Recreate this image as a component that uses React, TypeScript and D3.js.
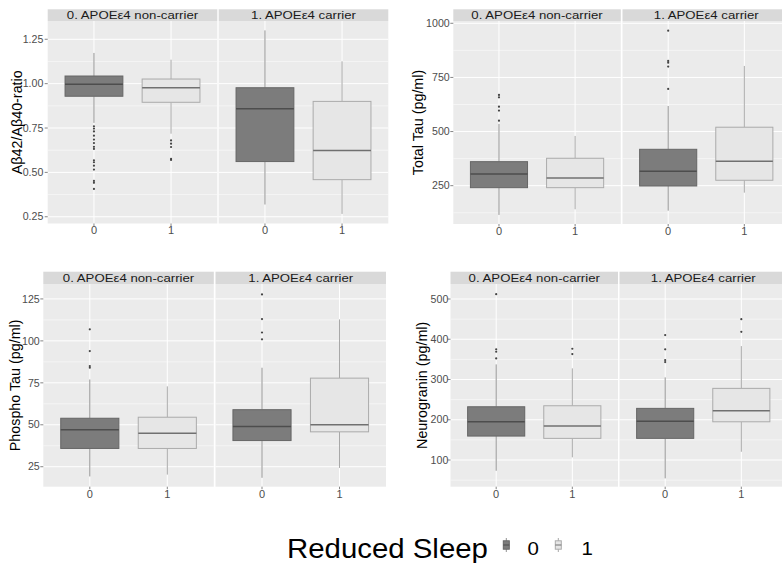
import React from "react";
import * as d3 from "d3";

// ---------- data ----------
const facetLabels = ["0. APOEε4 non-carrier", "1. APOEε4 carrier"];
const sleepGroups = ["0", "1"];
// order of each array: [non-carrier/0, non-carrier/1, carrier/0, carrier/1]

const abLow = [0.779, 0.718, 0.319, 0.266];
const abQ1 = [0.929, 0.895, 0.561, 0.459];
const abMed = [0.996, 0.977, 0.858, 0.624];
const abQ3 = [1.043, 1.026, 0.977, 0.9];
const abHigh = [1.173, 1.135, 1.3, 1.126];
const abOut = [
  [0.76, 0.747, 0.731, 0.707, 0.685, 0.665, 0.644, 0.632, 0.568, 0.557, 0.538, 0.516, 0.452, 0.441, 0.407],
  [0.68, 0.662, 0.643, 0.576, 0.57],
  [],
  [],
];
const abTicks = [0.25, 0.5, 0.75, 1.0, 1.25];

const ttLow = [115, 141, 134.5, 217.7];
const ttQ1 = [240.8, 240.8, 248.6, 275];
const ttMed = [304, 285.6, 316.5, 362.7];
const ttQ3 = [360.9, 376.6, 418, 520];
const ttHigh = [535, 479.7, 618, 803];
const ttOut = [[669, 658, 615, 597, 550], [], [966, 826, 818, 800, 697], []];
const ttTicks = [250, 500, 750, 1000];

const ptLow = [19.2, 20.3, 18.4, 24.3];
const ptQ1 = [35.9, 35.9, 40.6, 45.8];
const ptMed = [47, 45, 49, 50];
const ptQ3 = [53.9, 54.5, 59, 77.8];
const ptHigh = [77, 72.9, 84, 112.8];
const ptOut = [[106.9, 93.9, 85, 84], [], [127.7, 113, 105, 100.9], []];
const ptTicks = [25, 50, 75, 100, 125];

const ngLow = [73.3, 106.6, 54.4, 120.5];
const ngQ1 = [159.5, 153.8, 153.8, 195];
const ngMed = [195, 184.3, 196, 222.4];
const ngQ3 = [232.3, 234.8, 228.3, 278];
const ngHigh = [337.6, 327.7, 305.3, 383];
const ngOut = [[512, 375, 369, 352.5], [376.4, 363.2], [410.4, 375, 348.3, 343.4], [450, 418.6]];
const ngTicks = [100, 200, 300, 400, 500];

const legendTitle = "Reduced Sleep";

// ---------- styling / layout ----------
const FONT = "'Liberation Sans', Arial, Helvetica, sans-serif";
const fills = ["#7c7c7c", "#e6e6e6"];
const strokes = ["#666666", "#ababab"];
const medians = ["#4d4d4d", "#707070"];
const whiskers = ["#939393", "#a8a8a8"];

type Panel = {
  title: string;
  low: number[]; q1: number[]; med: number[]; q3: number[]; high: number[]; out: number[][];
  ticks: number[]; fmt: (v: number) => string;
  domain: [number, number];
  left: number; facetW: number; gap: number;
  stripTop: number; plotTop: number; plotBottom: number;
  titleX: number; labelGap: number;
};

const panels: Panel[] = [
  {
    title: "Aβ42/Aβ40-ratio", low: abLow, q1: abQ1, med: abMed, q3: abQ3, high: abHigh, out: abOut,
    ticks: abTicks, fmt: d3.format(".2f"), domain: [0.212, 1.353],
    left: 47.7, facetW: 169.6, gap: 1.4, stripTop: 9.3, plotTop: 21, plotBottom: 223.5, titleX: 22, labelGap: 4.4,
  },
  {
    title: "Total Tau (pg/ml)", low: ttLow, q1: ttQ1, med: ttMed, q3: ttQ3, high: ttHigh, out: ttOut,
    ticks: ttTicks, fmt: d3.format("d"), domain: [73, 1010.6],
    left: 453.3, facetW: 167.5, gap: 1.7, stripTop: 9.3, plotTop: 21, plotBottom: 224, titleX: 422.5, labelGap: 3.6,
  },
  {
    title: "Phospho Tau (pg/ml)", low: ptLow, q1: ptQ1, med: ptMed, q3: ptQ3, high: ptHigh, out: ptOut,
    ticks: ptTicks, fmt: d3.format("d"), domain: [13.1, 133.9],
    left: 43.3, facetW: 170.5, gap: 1.7, stripTop: 271.7, plotTop: 284, plotBottom: 486.7, titleX: 19.5, labelGap: 3.6,
  },
  {
    title: "Neurogranin (pg/ml)", low: ngLow, q1: ngQ1, med: ngMed, q3: ngQ3, high: ngHigh, out: ngOut,
    ticks: ngTicks, fmt: d3.format("d"), domain: [33.7, 537.3],
    left: 450.5, facetW: 167.5, gap: 1.5, stripTop: 271.7, plotTop: 284, plotBottom: 486.7, titleX: 427, labelGap: 2.2,
  },
];

function minorTicks(ticks: number[], domain: [number, number]) {
  const step = ticks[1] - ticks[0];
  const res: number[] = [];
  const ext = [ticks[0] - step, ...ticks, ticks[ticks.length - 1] + step];
  for (let i = 0; i < ext.length - 1; i++) {
    const m = (ext[i] + ext[i + 1]) / 2;
    if (m >= domain[0] && m <= domain[1]) res.push(m);
  }
  return res;
}

function PanelView({ p }: { p: Panel }) {
  const y = d3.scaleLinear().domain(p.domain).range([p.plotBottom, p.plotTop]);
  const minors = minorTicks(p.ticks, p.domain);
  return (
    <g>
      {facetLabels.map((fl, fi) => {
        const fx = p.left + fi * (p.facetW + p.gap);
        // ggplot discrete scale: 0.6 units of expansion on each side
        const x = d3.scalePoint().domain(sleepGroups).range([fx, fx + p.facetW]).padding(0.6 / 1.0 * 1);
        const unit = x.step();
        const cx = (g: number) => x(sleepGroups[g]) as number;
        const bw = 0.75 * unit;
        return (
          <g key={fi}>
            <rect x={fx} y={p.plotTop} width={p.facetW} height={p.plotBottom - p.plotTop} fill="#ebebeb" />
            {minors.map((m) => (
              <line key={"m" + m} x1={fx} x2={fx + p.facetW} y1={y(m)} y2={y(m)} stroke="#ffffff" strokeWidth={0.5} />
            ))}
            {p.ticks.map((t) => (
              <line key={"t" + t} x1={fx} x2={fx + p.facetW} y1={y(t)} y2={y(t)} stroke="#ffffff" strokeWidth={1} />
            ))}
            {sleepGroups.map((g, gi) => (
              <line key={"v" + g} x1={cx(gi)} x2={cx(gi)} y1={p.plotTop} y2={p.plotBottom} stroke="#ffffff" strokeWidth={1} />
            ))}
            {/* strip */}
            <rect x={fx} y={p.stripTop} width={p.facetW} height={p.plotTop - p.stripTop} fill="#d9d9d9" />
            <text
              transform={`translate(${fx + p.facetW / 2},${p.plotTop - 1.6}) scale(1.12,1)`}
              textAnchor="middle" fontFamily={FONT} fontSize={11.8} fill="#1a1a1a"
            >{fl}</text>
            {sleepGroups.map((g, gi) => {
              const i = fi * 2 + gi;
              const c = cx(gi);
              return (
                <g key={"b" + g}>
                  <line x1={c} x2={c} y1={y(p.high[i])} y2={y(p.q3[i])} stroke={whiskers[gi]} strokeWidth={1} />
                  <line x1={c} x2={c} y1={y(p.q1[i])} y2={y(p.low[i])} stroke={whiskers[gi]} strokeWidth={1} />
                  <rect x={c - bw / 2} y={y(p.q3[i])} width={bw} height={y(p.q1[i]) - y(p.q3[i])}
                    fill={fills[gi]} stroke={strokes[gi]} strokeWidth={1} />
                  <line x1={c - bw / 2} x2={c + bw / 2} y1={y(p.med[i])} y2={y(p.med[i])} stroke={medians[gi]} strokeWidth={1.5} />
                  {p.out[i].map((o, oi) => (
                    <circle key={oi} cx={c} cy={y(o)} r={1.1} fill="#444" />
                  ))}
                </g>
              );
            })}
            {/* x ticks and labels */}
            {sleepGroups.map((g, gi) => (
              <g key={"xl" + g}>
                <line x1={cx(gi)} x2={cx(gi)} y1={p.plotBottom} y2={p.plotBottom + 2.5} stroke="#666" strokeWidth={0.8} />
                <text x={cx(gi)} y={p.plotBottom + 10.8} textAnchor="middle" fontFamily={FONT} fontSize={11} fill="#4d4d4d">{g}</text>
              </g>
            ))}
          </g>
        );
      })}
      {/* y axis */}
      {p.ticks.map((t) => (
        <g key={"yl" + t}>
          <line x1={p.left - 3} x2={p.left} y1={y(t)} y2={y(t)} stroke="#666" strokeWidth={0.8} />
          <text x={p.left - p.labelGap} y={y(t) + 3.7} textAnchor="end" fontFamily={FONT} fontSize={10.6} fill="#4d4d4d">{p.fmt(t)}</text>
        </g>
      ))}
      <text
        transform={`translate(${p.titleX},${(p.plotTop + p.plotBottom) / 2}) rotate(-90)`}
        textAnchor="middle" fontFamily={FONT} fontSize={14.3} fill="#000"
      >{p.title}</text>
    </g>
  );
}

function KeyGlyph({ cx, gi }: { cx: number; gi: number }) {
  const ky = d3.scaleLinear().domain([0, 1]).range([552, 538]);
  return (
    <g>
      <line x1={cx} x2={cx} y1={ky(0)} y2={ky(1)} stroke={whiskers[gi]} strokeWidth={1} />
      <rect x={cx - 3} y={ky(0.8)} width={6} height={ky(0.2) - ky(0.8)} fill={fills[gi]} stroke={strokes[gi]} strokeWidth={1} />
      <line x1={cx - 3} x2={cx + 3} y1={ky(0.5)} y2={ky(0.5)} stroke={medians[gi]} strokeWidth={1} />
    </g>
  );
}

export default function App() {
  const keyX = [506.3, 558.3];
  const labelX = [527.5, 581.5];
  return (
    <svg width={782} height={563} style={{ position: "absolute", left: 0, top: 0, background: "#fff" }}>
      <rect x={0} y={0} width={782} height={563} fill="#ffffff" />
      {panels.map((p, i) => (
        <PanelView key={i} p={p} />
      ))}
      <text transform="translate(287,558) scale(1.05,1)" fontFamily={FONT} fontSize={28} fill="#000">{legendTitle}</text>
      {sleepGroups.map((g, gi) => (
        <g key={g}>
          <KeyGlyph cx={keyX[gi]} gi={gi} />
          <text transform={`translate(${labelX[gi]},555) scale(1.1,1)`} fontFamily={FONT} fontSize={18.6} fill="#000">{g}</text>
        </g>
      ))}
    </svg>
  );
}
